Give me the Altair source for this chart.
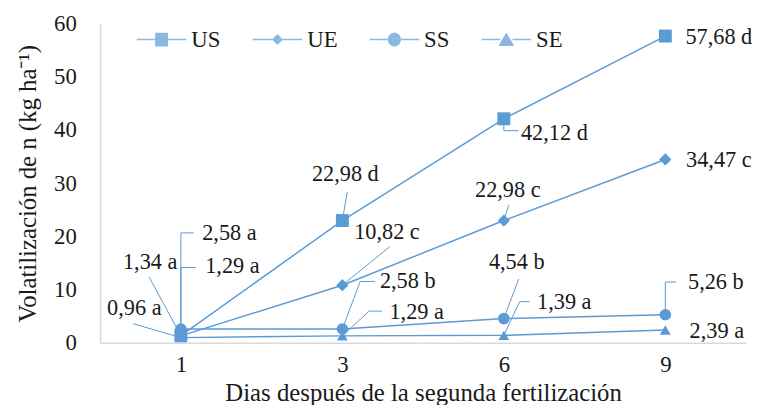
import math
import altair as alt
import pandas as pd

# ---------------- data ----------------
days = ["1", "3", "6", "9"]
series = ["US", "UE", "SS", "SE"]
us = [1.34, 22.98, 42.12, 57.68]
ue = [1.29, 10.82, 22.98, 34.47]
ss = [2.58, 2.58, 4.54, 5.26]
se = [0.96, 1.29, 1.39, 2.39]
labels_us = ["1,34 a", "22,98 d", "42,12 d", "57,68 d"]
labels_ue = ["1,29 a", "10,82 c", "22,98 c", "34,47 c"]
labels_ss = ["2,58 a", "2,58 b", "4,54 b", "5,26 b"]
labels_se = ["0,96 a", "1,29 a", "1,39 a", "2,39 a"]

# label placement (pixel offsets from the marker, like Excel data labels)
label_off = {
    "US": [(-31, -74), (3, -47), (51, 14), (54, 1)],
    "UE": [(52, -70), (45, -54), (4, -31), (54, 1)],
    "SS": [(49, -97), (66, -48), (13, -57), (51, -33)],
    "SE": [(-47, -30), (75, -24), (61, -34), (52, 1)],
}
# leader lines (pixel vertices from the marker)
leader_off = {
    "US": [[(-32, -59)], [(5, -29)], [(0, 12), (15, 12)], []],
    "UE": [[(0, -69), (15, -69)], [(48, -39)], [(5, -16)], []],
    "SS": [[(0, -97), (13, -97)], [(18, -48), (33, -48)], [(15, -40)], [(0, -33), (11, -33)]],
    "SE": [[(-48, -14)], [(27, -25), (40, -25)], [(16, -34), (26, -34)], []],
}

W, H = 652, 322
YMAX = 60
STEP = W / len(days)
PPU = H / YMAX
BLUE = "#5B9BD5"
FONT = "Liberation Serif"
TXT = "#1a1a1a"

values = {"US": us, "UE": ue, "SS": ss, "SE": se}
labels = {"US": labels_us, "UE": labels_ue, "SS": labels_ss, "SE": labels_se}

rows, lab_rows, lead_rows = [], [], []
for s in series:
    for i, d in enumerate(days):
        v = values[s][i]
        rows.append({"series": s, "idx": i, "day": d, "v": v})
        dx, dy = label_off[s][i]
        lab_rows.append({"series": s, "x": i + dx / STEP, "y": v - dy / PPU,
                         "text": labels[s][i]})
        verts = leader_off[s][i]
        if verts:
            lid = f"{s}{i}"
            lead_rows.append({"lid": lid, "o": 0, "x": i, "y": v})
            for k, (ox, oy) in enumerate(verts):
                lead_rows.append({"lid": lid, "o": k + 1, "x": i + ox / STEP, "y": v - oy / PPU})

df = pd.DataFrame(rows)
dlab = pd.DataFrame(lab_rows)
dlead = pd.DataFrame(lead_rows)

xscale = alt.Scale(domain=[-0.5, len(days) - 0.5], nice=False, zero=False)
yscale = alt.Scale(domain=[0, YMAX], nice=False)
label_expr = "[" + ",".join(f"'{d}'" for d in days) + "][datum.value]"

xenc = alt.X("idx:Q", scale=xscale,
             axis=alt.Axis(values=list(range(len(days))), labelExpr=label_expr,
                           title="Dias  después de la segunda fertilización",
                           grid=False, ticks=False, domainColor="#d9d9d9", domainWidth=1.5,
                           labelFont=FONT, labelFontSize=23, labelColor=TXT, labelPadding=11,
                           titleFont=FONT, titleFontSize=25, titleFontWeight="normal",
                           titleColor=TXT, titlePadding=4))
yenc = alt.Y("v:Q", scale=yscale,
             axis=alt.Axis(values=list(range(0, YMAX + 1, 10)), grid=False, ticks=False,
                           domainColor="#d9d9d9", domainWidth=1.5,
                           labelFont=FONT, labelFontSize=23, labelColor=TXT, labelPadding=24,
                           title="Volatilización  de n (kg ha⁻¹)",
                           titleFont=FONT, titleFontSize=25, titleFontWeight="normal",
                           titleColor=TXT, titlePadding=13))

lines = alt.Chart(df).mark_line(color=BLUE, strokeWidth=1.5).encode(
    x=xenc, y=yenc, detail="series:N")

leaders = alt.Chart(dlead).mark_line(color=BLUE, strokeWidth=1).encode(
    x=alt.X("x:Q", scale=xscale), y=alt.Y("y:Q", scale=yscale),
    detail="lid:N", order="o:Q")

points = alt.Chart(df).mark_point(filled=True, color=BLUE, opacity=1).encode(
    x="idx:Q", y="v:Q",
    shape=alt.Shape("series:N", scale=alt.Scale(domain=series,
                    range=["square", "diamond", "circle", "triangle-up"]), legend=None),
    size=alt.Size("series:N", scale=alt.Scale(domain=series, range=[170, 120, 170, 250]),
                  legend=None))


# legend symbols: a line through a marker; the marker is "filled" with dense strokes
def hatch(halfwidth, y0, y1, gap):
    parts = []
    n = int(round((y1 - y0) / 0.02))
    for k in range(n + 1):
        y = y0 + (y1 - y0) * k / n
        hw = halfwidth(y)
        if hw > 0.005:
            parts.append(f"M{-hw:.3f},{y:.3f}H{hw:.3f}")
    return f"M-1,0H{-gap:.3f}M{gap:.3f},0H1" + "".join(parts)


leg_paths = [
    hatch(lambda y: 0.26, -0.25, 0.25, 0.26),
    hatch(lambda y: 0.2 - abs(y), -0.19, 0.19, 0.2),
    hatch(lambda y: math.sqrt(max(0.0, 0.26 ** 2 - y * y)), -0.25, 0.25, 0.27),
    hatch(lambda y: 0.3 * (y + 0.27) / 0.51, -0.26, 0.23, 0.25),
]
leg_layer = alt.Chart(df).transform_filter("false").mark_point(
    filled=False, color=BLUE, strokeWidth=1.5).encode(
    x="idx:Q", y="v:Q",
    shape=alt.Shape("series:N", scale=alt.Scale(domain=series, range=leg_paths),
                    legend=alt.Legend(title=None, orient="none", legendX=36, legendY=-10,
                                      direction="horizontal", symbolSize=2500,
                                      symbolStrokeColor=BLUE, symbolStrokeWidth=1.5,
                                      labelFont=FONT, labelFontSize=23, labelColor=TXT,
                                      labelOffset=4, columnPadding=29, padding=0)))

texts = alt.Chart(dlab).mark_text(font=FONT, fontSize=22.5, color=TXT, align="center",
                                  baseline="middle").encode(
    x=alt.X("x:Q", scale=xscale), y=alt.Y("y:Q", scale=yscale), text="text:N")

chart = alt.layer(lines, leaders, points, leg_layer, texts).resolve_scale(
    shape="independent").properties(
    width=W, height=H, padding={"left": 8, "top": 3, "right": 0, "bottom": 0}
).configure_view(stroke=None)

chart.save("out.html", embed_options={"renderer": "svg", "actions": False})
